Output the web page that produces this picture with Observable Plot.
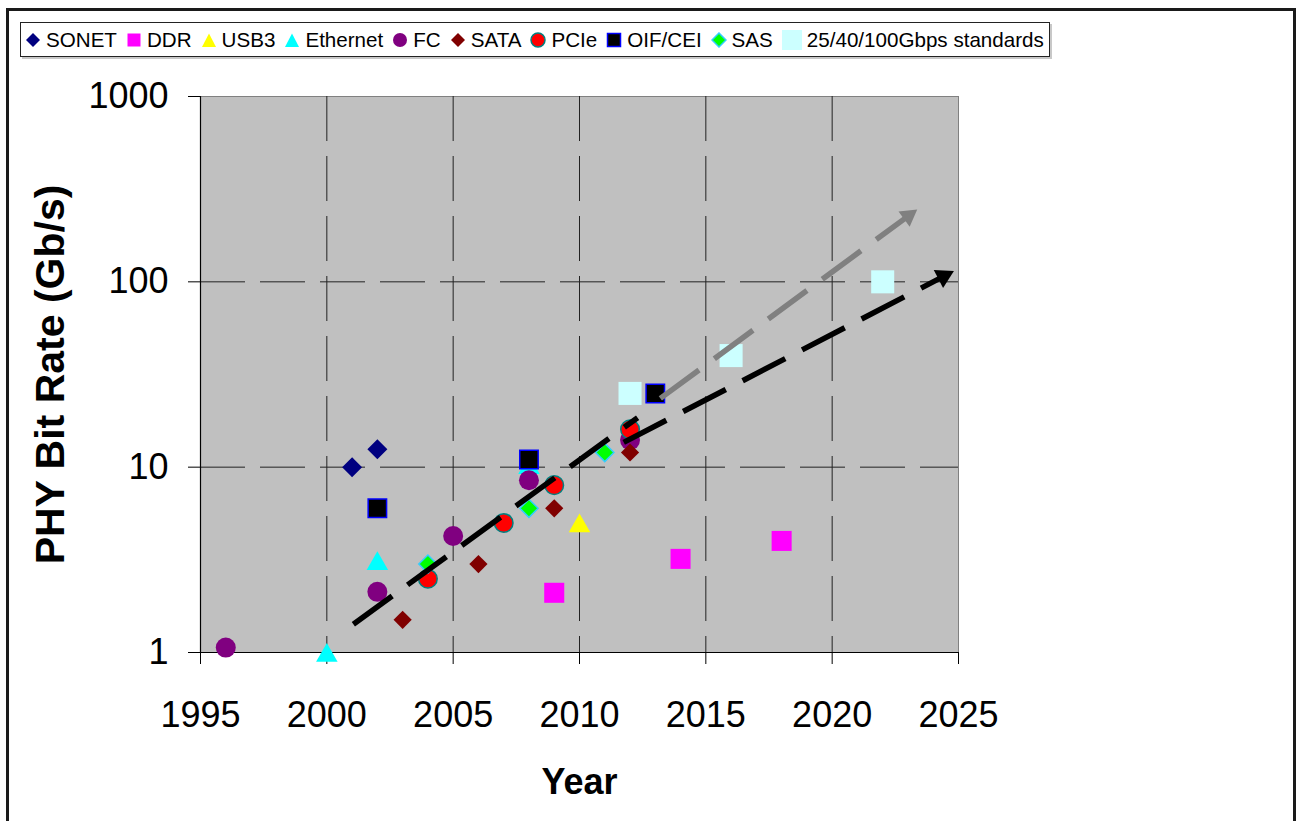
<!DOCTYPE html>
<html><head><meta charset="utf-8">
<script src="https://cdn.jsdelivr.net/npm/d3@7"></script>
<script src="https://cdn.jsdelivr.net/npm/@observablehq/plot@0.6"></script>
<style>
body{margin:0;background:#fff;font-family:Arial,"Liberation Sans",sans-serif;}
#page{position:relative;width:1303px;height:821px;overflow:hidden;background:#fff;}
#border{position:absolute;left:6px;top:8px;width:1290px;height:900px;border:3px solid #1a1a1a;box-sizing:border-box;}
#legend{position:absolute;left:20px;top:22px;width:1030px;height:35px;border:1.5px solid #222;box-sizing:border-box;display:flex;align-items:center;padding-left:4px;font-size:20.6px;color:#000;box-shadow:2px 2px 0 #c8c8c8;background:#fff;white-space:nowrap;}
.item{display:flex;align-items:center;margin-right:9px}
.item svg{margin-right:5px;display:block}
#chart{position:absolute;left:0;top:0}
</style>
</head><body>
<div id="page">
  <div id="border"></div>
  <div id="chart"></div>
  <div id="legend"></div>
</div>
<script>
// ---- data (year, PHY bit rate in Gb/s) ----
const sonet    = [[2001, 10], [2002, 12.5]];
const ddr      = [[2009, 2.1], [2014, 3.2], [2018, 4.0]];
const usb3     = [[2010, 5]];
const ethernet = [[2000, 1], [2002, 3.125], [2008, 10.3]];
const fc       = [[1996, 1.0625], [2002, 2.125], [2005, 4.25], [2008, 8.5], [2012, 14]];
const sata     = [[2003, 1.5], [2006, 3], [2009, 6], [2012, 12]];
const pcie     = [[2004, 2.5], [2007, 5], [2009, 8], [2012, 16]];
const oifcei   = [[2002, 6], [2008, 11], [2013, 25]];
const sas      = [[2004, 3], [2008, 6], [2011, 12]];
const hsStd    = [[2012, 25], [2016, 40], [2022, 100]];

// trend lines (start, end)
const trendEarly = [[2001.05, 1.42], [2012.3, 18.5]];
const trendLate  = [[2011.75, 13.6], [2024.41, 107]];
const trendGray  = [[2013.2, 23.5], [2023.02, 227]];

// ticks / labels
const xTicks = [1995, 2000, 2005, 2010, 2015, 2020, 2025];
const yTicks = [1, 10, 100, 1000];
const xGrid  = [2000, 2005, 2010, 2015, 2020];
const yGrid  = [10, 100];
const xTitle = "Year";
const yTitle = "PHY Bit Rate (Gb/s)";

// ---- series styles ----
const series = [
  {name:"SONET", data:sonet, symbol:"diamond2", fill:"#000080", r:9, leg:"diamond"},
  {name:"DDR", data:ddr, symbol:"square", fill:"#ff00ff", r:11.3, leg:"square"},
  {name:"USB3", data:usb3, symbol:"triangle", fill:"#ffff00", r:8, leg:"triangle"},
  {name:"Ethernet", data:ethernet, symbol:"triangle", fill:"#00ffff", r:8, leg:"triangle"},
  {name:"FC", data:fc, symbol:"circle", fill:"#800080", r:10, leg:"circle"},
  {name:"SATA", data:sata, symbol:"diamond2", fill:"#800000", r:8.2, leg:"diamond"},
  {name:"PCIe", data:pcie, symbol:"circle", fill:"#ff0000", stroke:"#008080", r:9.3, leg:"circle"},
  {name:"OIF/CEI", data:oifcei, symbol:"square", fill:"#000000", stroke:"#0000ff", r:10.4, leg:"square"},
  {name:"SAS", data:sas, symbol:"diamond2", fill:"#00ff00", stroke:"#33ccff", r:8.2, leg:"diamond"},
  {name:"25/40/100Gbps standards", data:hsStd, symbol:"square", fill:"#ccffff", r:13, leg:"bigsquare"}
];

const W = 1303, H = 821, mL = 200, mR = 345, mT = 96, mB = 169;
const pxPerYear = (W - mL - mR) / (xTicks[xTicks.length-1] - xTicks[0]);
const pxPerDecade = (H - mT - mB) / Math.log10(yTicks[yTicks.length-1] / yTicks[0]);
function headAngle(seg) {
  const dx = (seg[1][0] - seg[0][0]) * pxPerYear;
  const dy = (Math.log10(seg[1][1]) - Math.log10(seg[0][1])) * pxPerDecade;
  return Math.atan2(dx, dy) * 180 / Math.PI;
}

const X = d => d[0], Y = d => d[1];
const dotMarks = series.map(s => Plot.dot(s.data, {
  x: X, y: Y, symbol: s.symbol, fill: s.fill, r: s.r,
  stroke: s.stroke || "none", strokeWidth: s.stroke ? 1.5 : 0,
  dy: s.symbol === "triangle" ? 3 : 0
}));

const dash = "48,19";
const chart = Plot.plot({
  width: W, height: H,
  marginLeft: mL, marginRight: mR, marginTop: mT, marginBottom: mB,
  x: {domain: [xTicks[0], xTicks[xTicks.length-1]]},
  y: {type: "log", domain: [yTicks[0], yTicks[yTicks.length-1]]},
  style: {fontFamily: "Arial, 'Liberation Sans', sans-serif", background: "transparent", overflow: "visible", color: "#000"},
  marks: [
    Plot.frame({fill: "#c0c0c0", stroke: "#808080"}),
    Plot.ruleX(xGrid, {stroke: "#222", strokeWidth: 1, strokeDasharray: "45,15"}),
    Plot.ruleY(yGrid, {stroke: "#222", strokeWidth: 1, strokeDasharray: "45,15"}),
    Plot.ruleX([xTicks[0]], {stroke: "#000", strokeWidth: 1.2}),
    Plot.ruleY([yTicks[0]], {stroke: "#000", strokeWidth: 1.2}),
    Plot.axisX({ticks: xTicks, tickFormat: d => String(d), tickSize: 12, tickPadding: 37, fontSize: 36, label: null, stroke: "#000"}),
    Plot.axisY({ticks: yTicks, tickFormat: d => String(d), tickSize: 12, tickPadding: 20, fontSize: 36, label: null, stroke: "#000"}),
    ...dotMarks,
    Plot.line(trendGray, {x: X, y: Y, stroke: "#808080", strokeWidth: 5.5, strokeDasharray: dash, strokeLinecap: "butt"}),
    Plot.dot([trendGray[1]], {x: X, y: Y, symbol: "triangle", r: 7, fill: "#808080", rotate: headAngle(trendGray)}),
    Plot.line(trendEarly, {x: X, y: Y, stroke: "#000", strokeWidth: 5.5, strokeDasharray: dash, strokeLinecap: "butt"}),
    Plot.line(trendLate, {x: X, y: Y, stroke: "#000", strokeWidth: 5.5, strokeDasharray: dash, strokeLinecap: "butt"}),
    Plot.dot([trendLate[1]], {x: X, y: Y, symbol: "triangle", r: 7.5, fill: "#000", rotate: headAngle(trendLate)}),
    Plot.text([yTitle], {text: d => d, frameAnchor: "left", dx: -150, rotate: -90, textAnchor: "middle", lineAnchor: "middle", fontSize: 41, fontWeight: "bold", fill: "#000"}),
    Plot.text([xTitle], {text: d => d, frameAnchor: "bottom", dy: 129.5, textAnchor: "middle", lineAnchor: "middle", fontSize: 36, fontWeight: "bold", fill: "#000"})
  ]
});
document.getElementById("chart").appendChild(chart);

// ---- legend ----
const legend = document.getElementById("legend");
function markerSvg(s) {
  const st = s.stroke ? ` stroke="${s.stroke}" stroke-width="1.5"` : "";
  let shape, w = 16;
  switch (s.leg) {
    case "diamond": shape = `<polygon points="8,1 15,8 8,15 1,8" fill="${s.fill}"${st}/>`; break;
    case "square": shape = `<rect x="1.5" y="1.5" width="13" height="13" fill="${s.fill}"${st}/>`; break;
    case "triangle": shape = `<polygon points="8,1.5 15,15 1,15" fill="${s.fill}"${st}/>`; break;
    case "circle": shape = `<circle cx="8" cy="8" r="7" fill="${s.fill}"${st}/>`; break;
    case "bigsquare": w = 20; shape = `<rect x="0" y="0" width="20" height="20" fill="${s.fill}"/>`; break;
  }
  return `<svg width="${w}" height="${w}" viewBox="0 0 ${w} ${w}">${shape}</svg>`;
}
for (const s of series) {
  const item = document.createElement("div");
  item.className = "item";
  item.innerHTML = markerSvg(s) + `<span>${s.name}</span>`;
  legend.appendChild(item);
}
</script>
</body></html>
